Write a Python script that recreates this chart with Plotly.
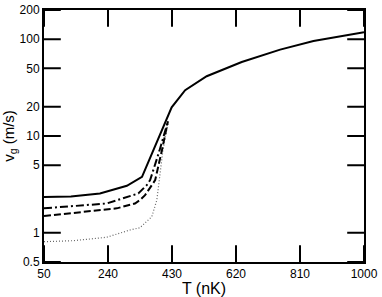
import plotly.graph_objects as go

# Data
T_solid = [50, 130, 216, 296, 341, 429, 469, 533, 637, 751, 850, 1000]
v_solid = [2.34, 2.37, 2.55, 3.06, 3.79, 19.8, 29.7, 41.4, 58.1, 78, 95.5, 118]

T_dashdot = [50, 236, 330, 355, 365, 393, 418]
v_dashdot = [1.79, 2.01, 2.55, 3.11, 3.5, 7.1, 14.2]

T_dash = [50, 266, 320, 335, 350, 374, 380, 400, 418]
v_dash = [1.49, 1.79, 2.01, 2.18, 2.45, 3.2, 3.5, 7.1, 14.2]

T_dot = [50, 137, 236, 305, 335, 370, 385, 392, 403, 414, 419]
v_dot = [0.81, 0.83, 0.90, 1.07, 1.13, 1.47, 2.18, 3.5, 7.1, 11.5, 14.0]

x_ticks = [50, 240, 430, 620, 810, 1000]
y_ticks = [0.5, 1, 5, 10, 20, 50, 100, 200]
y_ticktext = ["0.5", "1", "5", "10", "20", "50", "100", "200"]

x_range = [50, 1000]
y_range = [-0.30103, 2.30103]
x_min, x_max = x_range
y_min, y_max = y_ticks[0], y_ticks[-1]

fig = go.Figure()
fig.add_trace(go.Scatter(x=T_dot, y=v_dot, mode="lines",
                         line=dict(color="#666666", width=1.2, dash="1px,2px")))
fig.add_trace(go.Scatter(x=T_dash, y=v_dash, mode="lines",
                         line=dict(color="black", width=2, dash="7px,3px")))
fig.add_trace(go.Scatter(x=T_dashdot, y=v_dashdot, mode="lines",
                         line=dict(color="black", width=2, dash="8px,3px,2px,3px")))
fig.add_trace(go.Scatter(x=T_solid, y=v_solid, mode="lines",
                         line=dict(color="black", width=2)))

# inward tick marks: line markers centred on the frame, outer half clipped
tick_marker_v = dict(symbol="line-ns", size=24,
                     line=dict(width=2, color="black"), color="black")
tick_marker_h = dict(symbol="line-ew", size=24,
                     line=dict(width=2, color="black"), color="black")
fig.add_trace(go.Scatter(x=x_ticks, y=[y_min] * len(x_ticks), mode="markers",
                         marker=tick_marker_v, hoverinfo="skip"))
fig.add_trace(go.Scatter(x=x_ticks, y=[y_max] * len(x_ticks), mode="markers",
                         marker=tick_marker_v, hoverinfo="skip"))
fig.add_trace(go.Scatter(x=[x_min] * len(y_ticks), y=y_ticks, mode="markers",
                         marker=tick_marker_h, hoverinfo="skip"))
fig.add_trace(go.Scatter(x=[x_max] * len(y_ticks), y=y_ticks, mode="markers",
                         marker=tick_marker_h, hoverinfo="skip"))

font = "Liberation Sans, Arial, Helvetica, sans-serif"
fig.update_layout(
    width=382, height=297,
    margin=dict(l=44, r=18, t=10, b=35, pad=0),
    paper_bgcolor="white", plot_bgcolor="white",
    showlegend=False,
    font=dict(family=font, size=12, color="black"),
    xaxis=dict(
        range=x_range, tickvals=x_ticks, ticks="",
        showline=True, linecolor="black", linewidth=2, mirror=True,
        showgrid=False, zeroline=False, automargin=False,
        title=dict(text="T (nK)", font=dict(size=16), standoff=0),
    ),
    yaxis=dict(
        type="log", range=y_range, tickvals=y_ticks, ticktext=y_ticktext,
        ticks="", showline=True, linecolor="black", linewidth=2, mirror=True,
        showgrid=False, zeroline=False, automargin=False,
        title=dict(text="v<sub>g</sub> (m/s)", font=dict(size=15), standoff=5),
    ),
)
fig.write_html("out.html", config={"displayModeBar": False},
               post_script="document.body.style.margin='0px';")
